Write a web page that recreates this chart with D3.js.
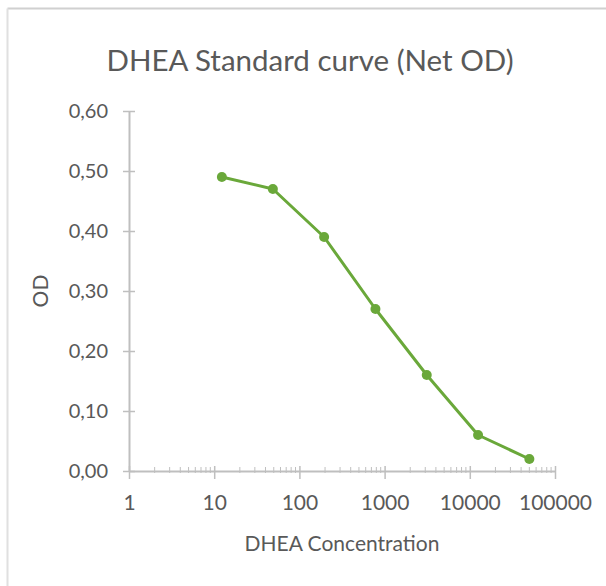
<!DOCTYPE html>
<html><head><meta charset="utf-8">
<script src="https://cdn.jsdelivr.net/npm/d3@7/dist/d3.min.js"></script>
<style>body{margin:0;background:#fff;} svg{display:block;}</style>
</head><body>
<svg id="chart" width="606" height="586"></svg>
<script>
const title = "DHEA Standard curve (Net OD)";
const xLabel = "DHEA Concentration";
const yLabel = "OD";
const concentrations = [12.3, 48.8, 195, 781, 3125, 12500, 50000];
const odValues = [0.49, 0.47, 0.39, 0.27, 0.16, 0.06, 0.02];
const yTicks = [0, 0.1, 0.2, 0.3, 0.4, 0.5, 0.6];
const xTicks = [1, 10, 100, 1000, 10000, 100000];

const svg = d3.select("#chart");
const font = "Lato, 'Open Sans', sans-serif";
const textCol = "#595959", axisCol = "#bfbfbf", green = "#6aa83a";

// card border (top & left visible)
svg.append("line").attr("x1",7.5).attr("x2",606).attr("y1",8.5).attr("y2",8.5).attr("stroke","#d0d0d0").attr("stroke-width",2);
svg.append("line").attr("x1",7.5).attr("x2",7.5).attr("y1",8.5).attr("y2",586).attr("stroke","#e0e0e0").attr("stroke-width",2);

const x = d3.scaleLog().domain([1, 100000]).range([129, 555]);
const y = d3.scaleLinear().domain([0, 0.6]).range([471, 111]);

svg.append("text").attr("x",310).attr("y",71).attr("text-anchor","middle")
  .attr("font-family",font).attr("font-size",29.5).attr("fill",textCol).text(title);

// y axis
const yAxis = d3.axisLeft(y).tickValues(yTicks).tickSize(0).tickPadding(21)
  .tickFormat(d => d3.format(".2f")(d).replace(".", ","));
const gy = svg.append("g").attr("transform","translate(129,0)").call(yAxis);
gy.select(".domain").attr("stroke",axisCol).attr("stroke-width",2);
gy.selectAll(".tick text").attr("font-family",font).attr("font-size",20).attr("fill",textCol);
gy.selectAll(".tick").append("line").attr("x1",-6).attr("x2",6).attr("stroke",axisCol).attr("stroke-width",1.5);

// x axis
const xAxis = d3.axisBottom(x).tickValues(xTicks).tickSize(0).tickPadding(24)
  .tickFormat(d3.format("d"));
const gx = svg.append("g").attr("transform","translate(0,471)").call(xAxis);
gx.select(".domain").attr("stroke",axisCol).attr("stroke-width",2);
gx.selectAll(".tick text").attr("font-family",font).attr("font-size",21).attr("fill",textCol);
gx.selectAll(".tick").append("line").attr("y1",-5).attr("y2",8).attr("stroke",axisCol).attr("stroke-width",1.5);
// minor log ticks
const minor = [];
xTicks.slice(0,-1).forEach(t => { for (let k=2;k<=9;k++) minor.push(t*k); });
gx.selectAll(".minor").data(minor).enter().append("line").attr("class","minor")
  .attr("x1",d=>x(d)).attr("x2",d=>x(d)).attr("y1",-4).attr("y2",2)
  .attr("stroke",axisCol).attr("stroke-width",1);

// axis titles
svg.append("text").attr("x",342).attr("y",551).attr("text-anchor","middle")
  .attr("font-family",font).attr("font-size",21).attr("fill",textCol).text(xLabel);
svg.append("text").attr("transform","translate(48,291) rotate(-90)").attr("text-anchor","middle")
  .attr("font-family",font).attr("font-size",21).attr("fill",textCol).text(yLabel);

// data
const data = concentrations.map((c,i)=>({c, v: odValues[i]}));
svg.append("path").datum(data)
  .attr("d", d3.line().x(d=>x(d.c)).y(d=>y(d.v)))
  .attr("fill","none").attr("stroke",green).attr("stroke-width",3).attr("stroke-linejoin","round");
svg.selectAll(".pt").data(data).enter().append("circle").attr("class","pt")
  .attr("cx",d=>x(d.c)).attr("cy",d=>y(d.v)).attr("r",5).attr("fill",green);
</script>
</body></html>
